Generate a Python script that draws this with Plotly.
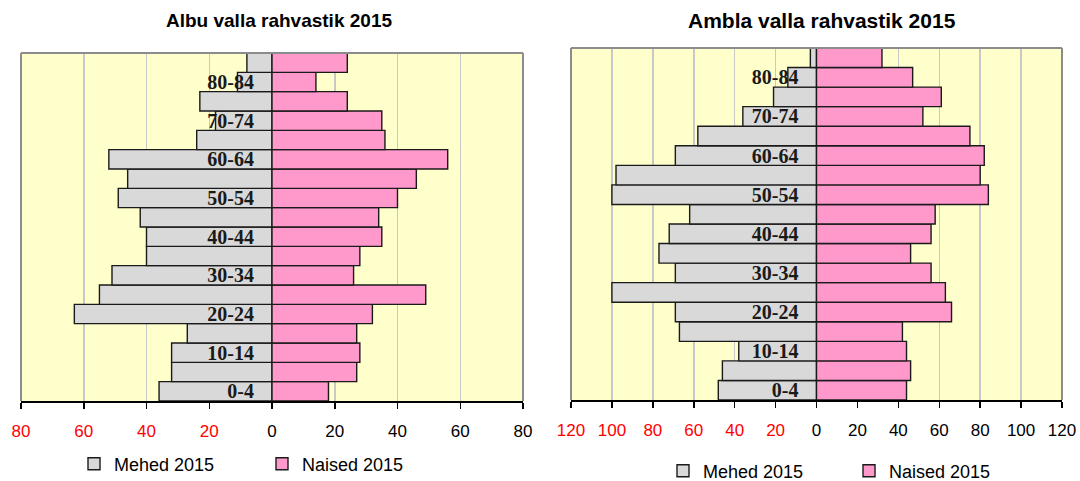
import plotly.graph_objects as go

age_groups = ["0-4", "5-9", "10-14", "15-19", "20-24", "25-29", "30-34", "35-39",
              "40-44", "45-49", "50-54", "55-59", "60-64", "65-69", "70-74",
              "75-79", "80-84", "85+"]
label_groups = ["0-4", "10-14", "20-24", "30-34", "40-44", "50-54", "60-64", "70-74", "80-84"]

albu_men = [36, 32, 32, 27, 63, 55, 51, 40, 40, 42, 49, 46, 52, 24, 18, 23, 11, 8]
albu_women = [18, 27, 28, 27, 32, 49, 26, 28, 35, 34, 40, 46, 56, 36, 35, 24, 14, 24]
ambla_men = [48, 46, 38, 67, 69, 100, 69, 77, 72, 62, 100, 98, 69, 58, 36, 21, 14, 3]
ambla_women = [44, 46, 44, 42, 66, 63, 56, 46, 56, 58, 84, 80, 82, 75, 52, 61, 47, 32]

albu_ticks = [-80, -60, -40, -20, 0, 20, 40, 60, 80]
ambla_ticks = [-120, -100, -80, -60, -40, -20, 0, 20, 40, 60, 80, 100, 120]

titles = ["Albu valla rahvastik 2015", "Ambla valla rahvastik 2015"]
series_names = ["Mehed 2015", "Naised 2015"]

MEN_COLOR = "#D9D9D9"
WOMEN_COLOR = "#FF99CC"
EDGE = "#1a1a1a"
W, H = 1080, 481


def tick_text(vals):
    out = []
    for v in vals:
        if v < 0:
            out.append('<span style="color:#FF0000">%d</span>' % abs(v))
        else:
            out.append(str(v))
    return out


# plot areas in pixels (left, right, top, bottom)
areas = [(21, 523, 53, 401), (571, 1062, 48, 400)]

fig = go.Figure()

panels = [
    (albu_men, albu_women, albu_ticks, 80, "x", "y", "legend"),
    (ambla_men, ambla_women, ambla_ticks, 120, "x2", "y2", "legend2"),
]

for i, (men, women, ticks, rng, xa, ya, lg) in enumerate(panels):
    fig.add_trace(go.Bar(
        y=age_groups, x=[-v for v in men], orientation="h",
        name=series_names[0], legend=lg, xaxis=xa, yaxis=ya,
        marker=dict(color=MEN_COLOR, line=dict(color=EDGE, width=1.4)),
    ))
    fig.add_trace(go.Bar(
        y=age_groups, x=women, orientation="h",
        name=series_names[1], legend=lg, xaxis=xa, yaxis=ya,
        marker=dict(color=WOMEN_COLOR, line=dict(color=EDGE, width=1.4)),
    ))

layout = dict(
    width=W, height=H,
    margin=dict(l=0, r=0, t=0, b=0, pad=0, autoexpand=False),
    paper_bgcolor="white",
    plot_bgcolor="#FFFFCC",
    barmode="relative",
    bargap=0,
    showlegend=True,
    font=dict(family="Liberation Sans", size=16, color="black"),
)

shapes = []
annotations = []
title_x = [279, 822]
title_size = [19, 21]
for i, (men, women, ticks, rng, xa, ya, lg) in enumerate(panels):
    l, r, t, b = areas[i]
    xdom = [l / W, r / W]
    ydom = [1 - b / H, 1 - t / H]
    suffix = "" if i == 0 else "2"
    layout["xaxis" + suffix] = dict(
        domain=xdom, range=[-rng, rng], anchor="y" + suffix,
        tickvals=ticks, ticktext=tick_text(ticks),
        ticks="outside", ticklen=6, tickwidth=1.5, tickcolor="black",
        showline=True, linecolor="black", linewidth=1.5,
        showgrid=True, gridcolor="#C8C8C8", gridwidth=1.5,
        zeroline=False, fixedrange=True, automargin=False,
        tickfont=dict(family="Liberation Sans", size=17, color="black"),
        ticklabelstandoff=8,
    )
    layout["yaxis" + suffix] = dict(
        domain=ydom, type="category", categoryarray=age_groups,
        categoryorder="array", range=[-0.5, len(age_groups) - 0.5],
        tickvals=label_groups, ticktext=label_groups,
        anchor="free", position=(l + r) / 2 / W,
        showline=False, ticks="", showgrid=False, zeroline=False,
        tickfont=dict(family="Liberation Serif", size=20, color="#1a1a1a", weight="bold"),
        ticklabelstandoff=18, fixedrange=True, automargin=False,
    )
    xd, yd = "x%s domain" % suffix, "y%s domain" % suffix
    for (x0, y0, x1, y1) in [(0, 0, 0, 1), (0, 1, 1, 1), (1, 1, 1, 0)]:
        shapes.append(dict(type="line", xref=xd, yref=yd, x0=x0, y0=y0, x1=x1, y1=y1,
                           line=dict(color="#8C8C8C", width=2), layer="above"))
    annotations.append(dict(
        text="<b>%s</b>" % titles[i], xref="paper", yref="paper",
        x=title_x[i] / W, y=1 - 20 / H, xanchor="center", yanchor="middle",
        showarrow=False, font=dict(family="Liberation Sans", size=title_size[i], color="black"),
    ))

layout["shapes"] = shapes
layout["annotations"] = annotations
layout["legend"] = dict(
    orientation="h", x=74 / W, y=1 - 464 / H, xanchor="left", yanchor="middle",
    font=dict(family="Liberation Sans", size=18), bgcolor="rgba(0,0,0,0)",
    entrywidth=143, itemwidth=30,
)
layout["legend2"] = dict(
    orientation="h", x=663 / W, y=1 - 471 / H, xanchor="left", yanchor="middle",
    font=dict(family="Liberation Sans", size=18), bgcolor="rgba(0,0,0,0)",
    entrywidth=141, itemwidth=30,
)

fig.update_layout(**layout)
fig.write_html(
    "out.html",
    config={"displayModeBar": False, "staticPlot": True},
    post_script="document.body.style.margin='0px';document.body.style.overflow='hidden';",
)
